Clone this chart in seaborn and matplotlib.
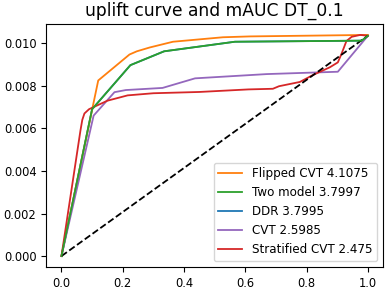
import matplotlib
matplotlib.use("Agg")
import matplotlib.pyplot as plt
import seaborn as sns

# 데이터
flipped_x = [0, 0.12, 0.222, 0.246, 0.288, 0.364, 0.527, 0.615, 1.0]
flipped_y = [0, 0.00825, 0.00947, 0.00962, 0.0098, 0.01007, 0.01028, 0.01032, 0.01039]

two_x = [0, 0.1, 0.225, 0.335, 0.566, 0.98, 1.0]
two_y = [0, 0.0069, 0.00897, 0.00962, 0.01007, 0.01012, 0.01035]

ddr_x = two_x
ddr_y = two_y

cvt_x = [0, 0.105, 0.173, 0.21, 0.33, 0.436, 0.67, 0.902, 1.0]
cvt_y = [0, 0.0066, 0.0077, 0.0078, 0.0079, 0.00835, 0.00855, 0.00866, 0.01035]

strat_x = [0, 0.062, 0.068, 0.075, 0.09, 0.15, 0.216, 0.30, 0.45, 0.61, 0.69, 0.71,
           0.778, 0.82, 0.876, 0.902, 0.914, 0.93, 0.947, 0.975, 1.0]
strat_y = [0, 0.0059, 0.0064, 0.0067, 0.0069, 0.0073, 0.00755, 0.00765, 0.00771, 0.00783,
           0.00786, 0.00798, 0.00818, 0.0085, 0.00887, 0.0091, 0.0095, 0.0101, 0.0103, 0.01039, 0.01035]

labels = ["Flipped CVT 4.1075", "Two model 3.7997", "DDR 3.7995", "CVT 2.5985", "Stratified CVT 2.475"]

fig = plt.figure(figsize=(3.91, 2.91), dpi=100)
ax = fig.add_axes([0.118, 0.082, 0.862, 0.836])

lw = 1.3
sns.lineplot(x=flipped_x, y=flipped_y, color="C1", label=labels[0], lw=lw, sort=False, ax=ax)
sns.lineplot(x=two_x, y=two_y, color="C2", label=labels[1], lw=lw, sort=False, ax=ax, zorder=2.1)
sns.lineplot(x=ddr_x, y=ddr_y, color="C0", label=labels[2], lw=lw, sort=False, ax=ax, zorder=1.9)
sns.lineplot(x=cvt_x, y=cvt_y, color="C4", label=labels[3], lw=lw, sort=False, ax=ax)
sns.lineplot(x=strat_x, y=strat_y, color="C3", label=labels[4], lw=lw, sort=False, ax=ax)
ax.plot([0, 1], [0, 0.01035], "k--", lw=lw)

ax.set_title("uplift curve and mAUC DT_0.1", fontsize=12.3)
ax.tick_params(labelsize=8.3)
ax.legend(loc="lower right", fontsize=8.6)

fig.savefig("out.png", dpi=100)
